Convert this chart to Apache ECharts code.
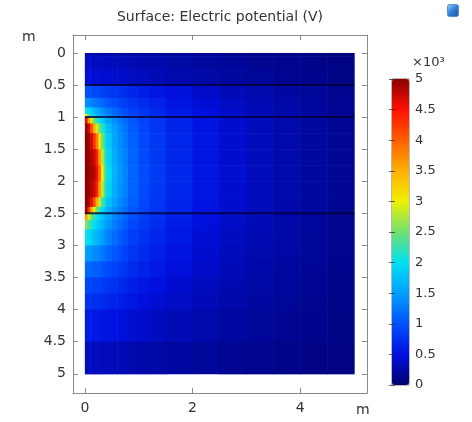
<!DOCTYPE html>
<html>
<head>
<meta charset="utf-8">
<script src="https://cdn.jsdelivr.net/npm/echarts@6/dist/echarts.min.js"></script>
<style>
  html, body { margin: 0; padding: 0; background: #fff; }
  #main { width: 472px; height: 422px; }
</style>
</head>
<body>
<div id="main"></div>
<script>
// cell edges (m)
var xEdges = [0, 0.05, 0.1, 0.15, 0.2, 0.25, 0.3, 0.35, 0.4, 0.5, 0.6, 0.7, 0.8, 1.0, 1.2, 1.5, 2.0, 2.5, 3.0, 3.5, 4.0, 4.5, 5.0];
var yEdges = [0, 0.05, 0.25, 0.5, 0.7, 0.85, 0.95, 1.0, 1.1, 1.25, 1.5, 1.75, 2.0, 2.25, 2.4, 2.5, 2.6, 2.75, 3.0, 3.25, 3.5, 3.75, 4.0, 4.5, 5.0];

// potential, x10^3 V, one row per y band
var potentialRows = [
  [0.28,0.28,0.28,0.28,0.27,0.27,0.27,0.27,0.26,0.26,0.25,0.24,0.23,0.22,0.21,0.19,0.17,0.15,0.13,0.11,0.1,0.08],
  [0.38,0.38,0.38,0.37,0.37,0.37,0.36,0.36,0.35,0.34,0.33,0.32,0.3,0.29,0.27,0.24,0.21,0.19,0.16,0.14,0.12,0.1],
  [0.46,0.46,0.45,0.45,0.44,0.44,0.43,0.43,0.42,0.41,0.4,0.38,0.36,0.34,0.31,0.28,0.24,0.21,0.18,0.15,0.13,0.11],
  [1.0,0.98,0.96,0.94,0.92,0.9,0.88,0.86,0.83,0.79,0.75,0.72,0.66,0.6,0.54,0.47,0.39,0.32,0.27,0.22,0.18,0.14],
  [1.4,1.35,1.3,1.26,1.22,1.18,1.14,1.1,1.04,0.97,0.91,0.86,0.78,0.7,0.63,0.54,0.45,0.37,0.3,0.25,0.2,0.16],
  [2.1,1.95,1.8,1.68,1.58,1.5,1.42,1.35,1.25,1.14,1.05,0.98,0.88,0.78,0.69,0.58,0.48,0.39,0.32,0.26,0.21,0.16],
  [2.9,2.3,2.0,1.85,1.72,1.62,1.53,1.45,1.34,1.22,1.12,1.04,0.93,0.82,0.72,0.61,0.5,0.4,0.33,0.27,0.21,0.16],
  [4.6,3.6,2.9,2.5,2.2,2.0,1.85,1.7,1.55,1.39,1.28,1.17,1.04,0.9,0.79,0.65,0.52,0.42,0.34,0.27,0.21,0.16],
  [4.95,4.7,4.1,3.5,2.9,2.5,2.2,1.95,1.7,1.5,1.35,1.23,1.07,0.92,0.8,0.66,0.52,0.42,0.34,0.27,0.21,0.16],
  [5,4.9,4.7,4.3,3.8,3.1,2.5,2.15,1.82,1.56,1.39,1.27,1.1,0.94,0.81,0.67,0.53,0.42,0.34,0.27,0.21,0.16],
  [5,4.95,4.85,4.7,4.4,3.6,2.8,2.3,1.9,1.62,1.44,1.31,1.12,0.95,0.82,0.67,0.53,0.42,0.34,0.27,0.21,0.16],
  [5,4.95,4.9,4.8,4.55,3.9,3.0,2.4,1.95,1.64,1.46,1.32,1.13,0.96,0.83,0.68,0.53,0.43,0.34,0.27,0.21,0.16],
  [5,4.95,4.85,4.7,4.4,3.6,2.8,2.3,1.9,1.61,1.44,1.31,1.12,0.95,0.82,0.67,0.53,0.42,0.34,0.27,0.21,0.16],
  [5,4.85,4.6,4.1,3.5,2.8,2.35,2.05,1.75,1.52,1.37,1.25,1.08,0.93,0.8,0.66,0.52,0.42,0.34,0.27,0.21,0.16],
  [4.9,4.3,3.5,2.9,2.5,2.2,1.95,1.8,1.6,1.42,1.29,1.18,1.03,0.89,0.78,0.64,0.51,0.41,0.33,0.26,0.21,0.16],
  [3.6,2.9,2.5,2.25,2.05,1.9,1.78,1.67,1.52,1.37,1.25,1.14,0.99,0.86,0.75,0.62,0.49,0.4,0.32,0.26,0.2,0.15],
  [2.6,2.35,2.15,2.0,1.88,1.77,1.67,1.57,1.43,1.29,1.18,1.08,0.94,0.82,0.72,0.59,0.47,0.38,0.31,0.25,0.2,0.15],
  [2.05,1.95,1.85,1.76,1.67,1.58,1.5,1.42,1.3,1.18,1.08,0.99,0.87,0.76,0.67,0.56,0.45,0.36,0.3,0.24,0.19,0.15],
  [1.5,1.47,1.43,1.39,1.35,1.3,1.26,1.21,1.13,1.04,0.96,0.89,0.79,0.7,0.62,0.52,0.42,0.34,0.28,0.23,0.18,0.14],
  [1.15,1.14,1.12,1.1,1.08,1.06,1.03,1.0,0.95,0.89,0.83,0.78,0.7,0.63,0.56,0.47,0.39,0.32,0.26,0.21,0.17,0.13],
  [0.92,0.91,0.9,0.89,0.88,0.86,0.84,0.82,0.79,0.75,0.71,0.67,0.61,0.55,0.5,0.42,0.35,0.29,0.24,0.2,0.16,0.12],
  [0.76,0.76,0.75,0.74,0.73,0.72,0.71,0.7,0.67,0.64,0.61,0.58,0.53,0.48,0.44,0.38,0.32,0.26,0.22,0.18,0.15,0.12],
  [0.58,0.58,0.57,0.57,0.56,0.55,0.55,0.54,0.52,0.5,0.48,0.46,0.43,0.39,0.36,0.31,0.27,0.22,0.19,0.16,0.13,0.11],
  [0.36,0.36,0.36,0.35,0.35,0.35,0.34,0.34,0.33,0.32,0.31,0.3,0.28,0.26,0.24,0.22,0.19,0.16,0.14,0.12,0.1,0.09]
];

// layer boundaries drawn as dark lines
var layerY = [0.5, 1, 2.5];
var domainX = [0, 5];

// colour bar (COMSOL rainbow), 0..5 in steps of 0.5
var rainbow = ['#00006e', '#0010e0', '#0050ff', '#00a0ff', '#00e0f0', '#70e070',
               '#f0f000', '#ffb000', '#ff6000', '#ff1000', '#8a0000'];

var cells = [];
for (var j = 0; j < potentialRows.length; j++) {
  for (var i = 0; i < potentialRows[j].length; i++) {
    cells.push([xEdges[i], xEdges[i + 1], yEdges[j], yEdges[j + 1], potentialRows[j][i]]);
  }
}

var font = 'DejaVu Sans';
var txt = '#333';
var frame = '#8a8a8a';

var series = [{
  type: 'custom',
  xAxisIndex: 0,
  yAxisIndex: 0,
  encode: { x: [0, 1], y: [2, 3] },
  data: cells,
  renderItem: function (params, api) {
    var p0 = api.coord([api.value(0), api.value(2)]);
    var p1 = api.coord([api.value(1), api.value(3)]);
    return {
      type: 'rect',
      shape: {
        x: Math.min(p0[0], p1[0]),
        y: Math.min(p0[1], p1[1]),
        width: Math.abs(p1[0] - p0[0]) + 0.6,
        height: Math.abs(p1[1] - p0[1]) + 0.6
      },
      style: { fill: api.visual('color') }
    };
  },
  silent: true
}];

layerY.forEach(function (y) {
  series.push({
    type: 'line',
    xAxisIndex: 0,
    yAxisIndex: 0,
    data: [[domainX[0], y], [domainX[1], y]],
    symbol: 'none',
    lineStyle: { color: 'rgba(0,0,50,0.8)', width: 2 },
    silent: true,
    z: 5
  });
});

function tickLabel(v) {
  return Math.abs(v * 2 - Math.round(v * 2)) < 1e-6 ? String(v) : '';
}

function frameAxis(extra) {
  var base = {
    type: 'value', gridIndex: 0,
    axisLine: { show: true, onZero: false, lineStyle: { color: frame } },
    axisTick: { show: true, inside: true, length: 5, lineStyle: { color: frame } },
    axisLabel: { show: false },
    splitLine: { show: false }
  };
  for (var k in extra) base[k] = extra[k];
  return base;
}

var xLabel = { color: txt, fontSize: 14, fontFamily: font, margin: 8, showMinLabel: false, showMaxLabel: false, formatter: tickLabel };
var yLabel = { color: txt, fontSize: 14, fontFamily: font, margin: 7, showMinLabel: false, showMaxLabel: false, formatter: tickLabel };

var option = {
  animation: false,
  backgroundColor: '#fff',
  textStyle: { fontFamily: font },
  title: {
    text: 'Surface: Electric potential (V)',
    left: 220,
    top: 10,
    textAlign: 'center',
    padding: 0,
    textStyle: { fontFamily: font, fontSize: 14, fontWeight: 'normal', color: txt }
  },
  grid: [
    { left: 73, top: 35, width: 294, height: 358, show: false },
    { left: 392, top: 79, width: 17, height: 306, show: true, borderColor: '#777', borderWidth: 1 }
  ],
  xAxis: [
    frameAxis({ position: 'bottom', min: -0.22, max: 5.24, splitNumber: 3, axisLabel: xLabel }),
    frameAxis({ position: 'top', min: -0.22, max: 5.24, splitNumber: 3 }),
    { type: 'value', gridIndex: 1, show: false, min: 0, max: 1 }
  ],
  yAxis: [
    frameAxis({ position: 'left', inverse: true, min: -0.28, max: 5.3, splitNumber: 11, axisLabel: yLabel }),
    frameAxis({ position: 'right', inverse: true, min: -0.28, max: 5.3, splitNumber: 11 }),
    {
      type: 'value', gridIndex: 1, position: 'right', min: 0, max: 5, interval: 0.5,
      axisLine: { show: false },
      axisTick: { show: true, inside: true, length: 3, lineStyle: { color: 'rgba(40,40,40,0.7)' } },
      axisLabel: { color: txt, fontSize: 13, fontFamily: font, margin: 6 },
      splitLine: { show: false },
      z: 10
    },
    {
      type: 'value', gridIndex: 1, position: 'left', min: 0, max: 5, interval: 0.5,
      axisLine: { show: false },
      axisTick: { show: true, inside: true, length: 3, lineStyle: { color: 'rgba(40,40,40,0.7)' } },
      axisLabel: { show: false },
      splitLine: { show: false },
      z: 10
    }
  ],
  visualMap: {
    type: 'continuous',
    min: 0,
    max: 5,
    dimension: 4,
    seriesIndex: 0,
    calculable: false,
    left: 392,
    top: 79,
    padding: 0,
    itemWidth: 17,
    itemHeight: 306,
    inRange: { color: rainbow }
  },
  graphic: [
    { type: 'text', left: 22, top: 30, style: { text: 'm', font: '14px "DejaVu Sans"', fill: txt } },
    { type: 'text', left: 356, top: 403, style: { text: 'm', font: '14px "DejaVu Sans"', fill: txt } },
    { type: 'text', left: 412, top: 56, style: { text: '\u00d710\u00b3', font: '13px "DejaVu Sans"', fill: txt } },
    {
      type: 'rect', left: 447, top: 4,
      shape: { width: 11, height: 12, r: 2 },
      style: {
        fill: new echarts.graphic.LinearGradient(0, 0, 1, 1, [
          { offset: 0, color: '#9fd4ff' }, { offset: 0.5, color: '#2f7fd8' }, { offset: 1, color: '#1b4f9c' }
        ]),
        stroke: '#5a8fc8', lineWidth: 1
      }
    }
  ],
  series: series
};

var chart = echarts.init(document.getElementById('main'));
chart.setOption(option);
</script>
</body>
</html>
